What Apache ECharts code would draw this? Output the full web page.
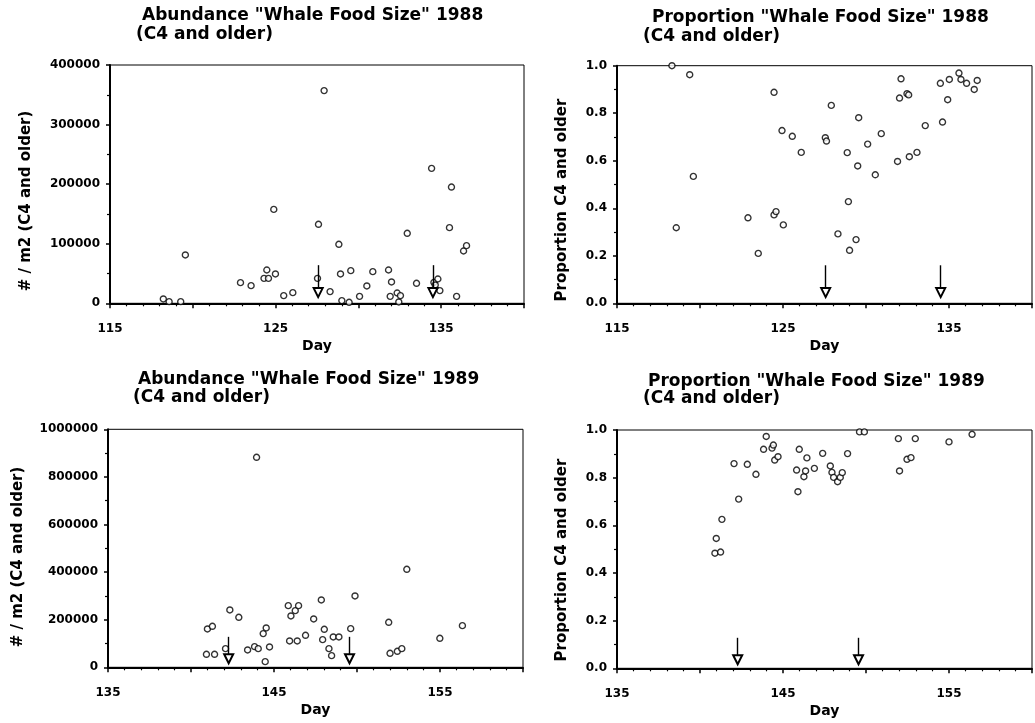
<!DOCTYPE html>
<html>
<head>
<meta charset="utf-8">
<style>
  html, body { margin: 0; padding: 0; background: #fff; }
  #chart { width: 1035px; height: 723px; }
</style>
<script src="https://cdn.jsdelivr.net/npm/echarts@6/dist/echarts.min.js"></script>
</head>
<body>
<div id="chart"></div>
<script>
// ---------------- DATA ----------------
const titles1988A = ['Abundance "Whale Food Size" 1988', '(C4 and older)'];
const titles1988P = ['Proportion "Whale Food Size" 1988', '(C4 and older)'];
const titles1989A = ['Abundance "Whale Food Size" 1989', '(C4 and older)'];
const titles1989P = ['Proportion "Whale Food Size" 1989', '(C4 and older)'];
const xAxisName = 'Day';
const yNameAbundance = '# / m2 (C4 and older)';
const yNameProportion = 'Proportion C4 and older';

const days1988A = [118.22, 118.57, 119.27, 119.55, 122.88, 123.52, 124.30, 124.47, 124.57, 124.89, 124.99, 125.49, 126.04,
  127.53, 127.59, 127.93, 128.29, 128.82, 128.92, 129.00, 129.44, 129.54, 130.07, 130.51, 130.87, 131.82, 131.92, 132.00,
  132.34, 132.44, 132.54, 132.95, 133.51, 134.42, 134.56, 134.64, 134.80, 134.92, 135.50, 135.62, 135.93, 136.35, 136.53];
const abund1988 = [7300, 2800, 2800, 81100, 34700, 29600, 41900, 55900, 41900, 157600, 49200, 12900, 17900,
  41900, 132600, 357000, 19600, 99000, 49200, 4500, 1700, 54800, 11700, 29100, 53100, 55900, 11700, 35800,
  17300, 2200, 12900, 117500, 33600, 226500, 35200, 30800, 40800, 21300, 127000, 195200, 11700, 87800, 96800];

const days1988P = [118.31, 118.57, 119.38, 119.60, 122.89, 123.51, 124.46, 124.46, 124.58, 124.94, 125.02, 125.56, 126.10,
  127.55, 127.62, 127.91, 128.31, 128.87, 128.94, 129.01, 129.40, 129.50, 129.56, 130.10, 130.56, 130.92, 131.90, 132.02,
  132.11, 132.47, 132.57, 132.61, 133.07, 133.57, 134.48, 134.61, 134.92, 135.02, 135.60, 135.72, 136.06, 136.52, 136.70];
const prop1988 = [1.0, 0.318, 0.962, 0.534, 0.36, 0.21, 0.888, 0.372, 0.386, 0.727, 0.33, 0.703, 0.635,
  0.697, 0.683, 0.833, 0.292, 0.634, 0.428, 0.223, 0.268, 0.578, 0.781, 0.67, 0.541, 0.714, 0.597, 0.864,
  0.945, 0.882, 0.877, 0.617, 0.635, 0.748, 0.926, 0.763, 0.857, 0.942, 0.969, 0.942, 0.926, 0.9, 0.938];

const days1989A = [140.93, 140.99, 141.29, 141.42, 142.08, 142.34, 142.88, 143.41, 143.83, 143.95, 144.05, 144.35, 144.47,
  144.53, 144.73, 145.86, 145.94, 146.02, 146.28, 146.40, 146.48, 146.90, 147.39, 147.85, 147.93, 148.03, 148.31, 148.47,
  148.57, 148.91, 149.62, 149.88, 151.91, 151.99, 152.43, 152.70, 153.00, 154.99, 156.35];
const abund1989 = [54600, 161000, 172300, 54600, 78400, 240900, 210100, 72800, 86800, 882400, 78400, 141500, 23800,
  165300, 85400, 259100, 110600, 215700, 238100, 110600, 259100, 134500, 203100, 282900, 116200, 159700, 78400, 49000,
  127500, 127500, 162500, 299700, 189100, 58800, 67200, 78400, 411800, 121900, 175100];

const days1989P = [140.90, 140.98, 141.24, 141.32, 142.05, 142.33, 142.85, 143.37, 143.83, 143.99, 144.34, 144.42, 144.50,
  144.70, 145.82, 145.90, 145.98, 146.26, 146.36, 146.44, 146.89, 147.39, 147.85, 147.95, 148.05, 148.29, 148.45, 148.57,
  148.89, 149.61, 149.90, 151.95, 152.02, 152.47, 152.71, 152.97, 155.00, 156.39];
const prop1989 = [0.483, 0.545, 0.488, 0.625, 0.859, 0.71, 0.856, 0.814, 0.919, 0.973, 0.924, 0.937, 0.874,
  0.888, 0.832, 0.741, 0.919, 0.804, 0.828, 0.883, 0.839, 0.902, 0.849, 0.822, 0.801, 0.783, 0.801, 0.821,
  0.901, 0.992, 0.992, 0.964, 0.828, 0.877, 0.884, 0.964, 0.95, 0.982];

// event arrows (days)
const arrowDays1988 = [127.57, 134.50];
const arrowDays1989 = [142.27, 149.55];

// axis ranges / ticks
const xRange1988 = [115, 140];
const xRange1989 = [135, 160];
const xLabelStep = 10;
const yAbund1988 = [0, 400000, 100000];
const yAbund1989 = [0, 1000000, 200000];
const yProp = [0, 1, 0.2];

// ---------------- STYLE / LAYOUT ----------------
const FONT = 'DejaVu Sans';
const BLACK = '#000';
const grids = [
  { left: 110, top: 65,   width: 414, height: 238.3 },
  { left: 617, top: 65.7, width: 415, height: 237.6 },
  { left: 108, top: 429.3, width: 415, height: 238 },
  { left: 617, top: 430,  width: 415, height: 238.3 }
];

function xAxis(gridIndex, range) {
  const min = range[0];
  return {
    type: 'value', gridIndex, min: range[0], max: range[1], interval: 5,
    axisLine: { show: true, onZero: false, lineStyle: { color: BLACK, width: 2 } },
    axisTick: { show: true, length: 5, lineStyle: { color: BLACK, width: 1.5 } },
    minorTick: { show: true, splitNumber: 5, length: 3, lineStyle: { color: BLACK, width: 1.2 } },
    splitLine: { show: false }, minorSplitLine: { show: false },
    axisLabel: {
      margin: 20, color: BLACK, fontFamily: FONT, fontWeight: 'bold', fontSize: 12,
      formatter: v => (Math.abs((v - min) % xLabelStep) < 1e-9 ? String(v) : '')
    },
    name: xAxisName, nameLocation: 'middle', nameGap: 36,
    nameTextStyle: { color: BLACK, fontFamily: FONT, fontWeight: 'bold', fontSize: 14 }
  };
}
function yAxis(gridIndex, r, fmt) {
  return {
    type: 'value', gridIndex, min: r[0], max: r[1], interval: r[2],
    axisLine: { show: true, onZero: false, lineStyle: { color: BLACK, width: 2 } },
    axisTick: { show: true, length: 4, lineStyle: { color: BLACK, width: 1.5 } },
    minorTick: { show: true, splitNumber: 2, length: 3, lineStyle: { color: BLACK, width: 1.2 } },
    splitLine: { show: false }, minorSplitLine: { show: false },
    axisLabel: { margin: 10, color: BLACK, fontFamily: FONT, fontWeight: 'bold', fontSize: 12, formatter: fmt }
  };
}
const fmtInt = v => String(Math.round(v));
const fmtProp = v => v.toFixed(1);

function arrowLines(days, ymax, topFrac, endFrac) {
  return {
    silent: true, animation: false,
    symbol: ['none', 'emptyTriangle'], symbolSize: 9,
    label: { show: false },
    lineStyle: { color: BLACK, width: 1.4, type: 'solid' },
    emphasis: { disabled: true },
    data: days.map(d => [{ coord: [d, topFrac * ymax] }, { coord: [d, endFrac * ymax] }])
  };
}
function scatter(idx, xs, ys, marks) {
  return {
    type: 'scatter', xAxisIndex: idx, yAxisIndex: idx,
    data: xs.map((d, i) => [d, ys[i]]),
    symbol: 'circle', symbolSize: 6, clip: false,
    itemStyle: { color: '#fff', borderColor: BLACK, borderWidth: 1.4 },
    emphasis: { disabled: true },
    markLine: marks
  };
}
function titleBox(text, left, top) {
  return {
    text, left, top, padding: 0,
    textStyle: { color: BLACK, fontFamily: FONT, fontWeight: 'bold', fontSize: 17, lineHeight: 18 }
  };
}
function yName(text, x, y) {
  return {
    type: 'text', x, y, rotation: Math.PI / 2,
    style: { text, fill: BLACK, font: 'bold 15px "DejaVu Sans"', align: 'center', verticalAlign: 'middle' }
  };
}

const chart = echarts.init(document.getElementById('chart'), null, { renderer: 'canvas' });
chart.setOption({
  backgroundColor: '#fff',
  animation: false,
  title: [
    titleBox(titles1988A[0], 142, 7), titleBox(titles1988A[1], 136, 26),
    titleBox(titles1988P[0], 652, 9), titleBox(titles1988P[1], 643, 28),
    titleBox(titles1989A[0], 138, 371), titleBox(titles1989A[1], 133, 389),
    titleBox(titles1989P[0], 648, 373), titleBox(titles1989P[1], 643, 390)
  ],
  grid: grids.map(g => Object.assign({ show: true, borderColor: BLACK, borderWidth: 1, containLabel: false }, g)),
  xAxis: [xAxis(0, xRange1988), xAxis(1, xRange1988), xAxis(2, xRange1989), xAxis(3, xRange1989)],
  yAxis: [yAxis(0, yAbund1988, fmtInt), yAxis(1, yProp, fmtProp), yAxis(2, yAbund1989, fmtInt), yAxis(3, yProp, fmtProp)],
  graphic: [
    yName(yNameAbundance, 26, 201),
    yName(yNameProportion, 562, 200),
    yName(yNameAbundance, 18, 557),
    yName(yNameProportion, 562, 560)
  ],
  series: [
    scatter(0, days1988A, abund1988, arrowLines(arrowDays1988, yAbund1988[1], 0.16, 0.045)),
    scatter(1, days1988P, prop1988, arrowLines(arrowDays1988, yProp[1], 0.16, 0.045)),
    scatter(2, days1989A, abund1989, arrowLines(arrowDays1989, yAbund1989[1], 0.128, 0.036)),
    scatter(3, days1989P, prop1989, arrowLines(arrowDays1989, yProp[1], 0.128, 0.036))
  ]
});
</script>
</body>
</html>
